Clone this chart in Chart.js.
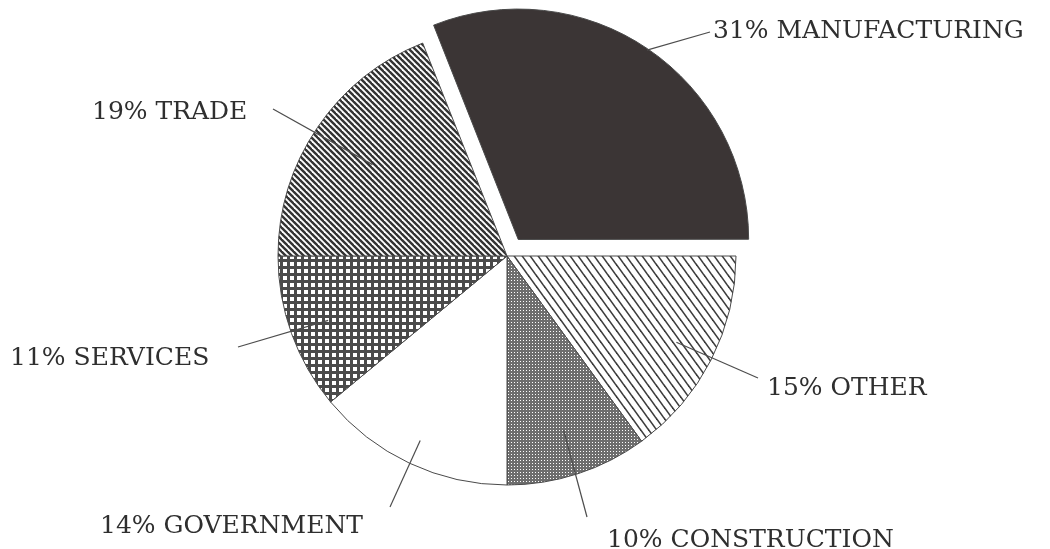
<!DOCTYPE html>
<html>
<head>
<meta charset="utf-8">
<script src="https://cdn.jsdelivr.net/npm/chart.js@4"></script>
<style>
  html, body { margin: 0; padding: 0; background: #fff; }
  #wrap { width: 1050px; height: 549px; }
</style>
</head>
<body>
<div id="wrap"><canvas id="pieChart" width="1050" height="549"></canvas></div>
<script>
// slices go clockwise starting at 3 o'clock
const categories = ['OTHER', 'CONSTRUCTION', 'GOVERNMENT', 'SERVICES', 'TRADE', 'MANUFACTURING'];
const shares = [15, 10, 14, 11, 19, 31];

// label placement: text left x / baseline, and the outer end of each leader line
const labelX = [767, 607, 100, 10, 92, 713];
const labelBaseline = [395, 547, 533, 365, 119, 38];
const leaderEndX = [758, 587, 390, 238, 273, 710];
const leaderEndY = [378, 517, 507, 347, 109, 32];
const leaderDepth = [0.83, 0.8, 0.89, 0.83, 0.71, 1.0];

function makeTile(w, h, draw) {
    const c = document.createElement('canvas');
    c.width = w;
    c.height = h;
    const g = c.getContext('2d');
    g.fillStyle = '#fff';
    g.fillRect(0, 0, w, h);
    draw(g, w, h);
    return c;
}

// "\" hatching, one stripe per tile so it repeats seamlessly
function stripeTile(w, h, lw, color) {
    return makeTile(w, h, (g) => {
        g.strokeStyle = color;
        g.lineWidth = lw;
        for (let k = -1; k <= 1; k++) {
            g.beginPath();
            g.moveTo(k * w - w, -h);
            g.lineTo(k * w + 2 * w, 2 * h);
            g.stroke();
        }
    });
}

function gridTile(size, lw, color) {
    return makeTile(size, size, (g) => {
        g.fillStyle = color;
        g.fillRect(0, 0, size, lw);
        g.fillRect(0, 0, lw, size);
    });
}

// fine screen: gray with one white dot per cell
function dotTile(size, color) {
    return makeTile(size, size, (g) => {
        g.fillStyle = color;
        g.fillRect(0, 0, size, size);
        g.fillStyle = '#fff';
        g.fillRect(1, 1, 1, 1);
    });
}

document.addEventListener('DOMContentLoaded', function() {
    const canvas = document.getElementById('pieChart');
    const ctx = canvas.getContext('2d');

    const fills = [
        ctx.createPattern(stripeTile(8, 11, 1.6, '#3c3c3c'), 'repeat'),
        ctx.createPattern(dotTile(3, '#6e6e6e'), 'repeat'),
        '#ffffff',
        ctx.createPattern(gridTile(7, 3, '#4a4a4a'), 'repeat'),
        ctx.createPattern(stripeTile(6, 6, 2.4, '#333333'), 'repeat'),
        '#3b3535'
    ];

    const whiteBg = {
        id: 'whiteBg',
        beforeDraw(chart) {
            const c = chart.ctx;
            c.save();
            c.fillStyle = '#fff';
            c.fillRect(0, 0, chart.width, chart.height);
            c.restore();
        }
    };

    const leaderLabels = {
        id: 'leaderLabels',
        afterDatasetsDraw(chart) {
            const c = chart.ctx;
            const meta = chart.getDatasetMeta(0);
            c.save();
            meta.data.forEach((arc, i) => {
                const p = arc.getProps(['x', 'y', 'startAngle', 'endAngle', 'outerRadius'], true);
                const mid = (p.startAngle + p.endAngle) / 2;
                const shift = (arc.options.offset || 0) / 4;
                const r = p.outerRadius * leaderDepth[i] + shift;
                const x0 = p.x + Math.cos(mid) * r;
                const y0 = p.y + Math.sin(mid) * r;

                c.strokeStyle = '#4d4d4d';
                c.lineWidth = 1.2;
                c.beginPath();
                c.moveTo(x0, y0);
                c.lineTo(leaderEndX[i], leaderEndY[i]);
                c.stroke();

                c.fillStyle = '#2f2f2f';
                c.font = '25px "DejaVu Serif"';
                c.textAlign = 'left';
                c.textBaseline = 'alphabetic';
                c.fillText(shares[i] + '% ' + categories[i], labelX[i], labelBaseline[i]);
            });
            c.restore();
        }
    };

    new Chart(canvas, {
        type: 'pie',
        data: {
            labels: categories,
            datasets: [{
                data: shares,
                backgroundColor: fills,
                borderColor: '#4a4a4a',
                borderWidth: 1,
                offset: [0, 0, 0, 0, 0, 80]
            }]
        },
        options: {
            responsive: false,
            animation: false,
            devicePixelRatio: 1,
            radius: 229,
            rotation: 90,
            layout: { padding: { left: 0, right: 36, top: 0, bottom: 37 } },
            plugins: {
                legend: { display: false },
                tooltip: { enabled: false }
            }
        },
        plugins: [whiteBg, leaderLabels]
    });
});
</script>
</body>
</html>
